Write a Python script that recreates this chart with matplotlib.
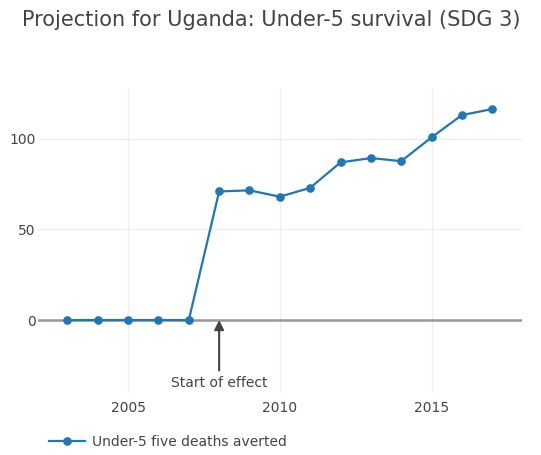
import numpy as np
import matplotlib
matplotlib.use('Agg')
import matplotlib.pyplot as plt

# Data
years = [2003, 2004, 2005, 2006, 2007, 2008, 2009, 2010,
         2011, 2012, 2013, 2014, 2015, 2016, 2017]
deaths_averted = [0, 0, 0, 0, 0, 70.9, 71.5, 68.0,
                  72.9, 86.9, 89.3, 87.6, 100.7, 113.0, 116.3]
x_ticks = [2005, 2010, 2015]
y_ticks = [0, 50, 100]
effect_year = 2008

title = 'Projection for Uganda: Under-5 survival (SDG 3)'
series_name = 'Under-5 five deaths averted'
grey = '#444444'
blue = '#1f77b4'

plt.rcParams['font.family'] = 'DejaVu Sans'

fig = plt.figure(figsize=(5.41, 4.55), dpi=100)
ax = fig.add_axes([0.0702, 0.1363, 0.8941, 0.6674])

line, = ax.plot(years, deaths_averted, color=blue, lw=1.6,
                marker='o', markersize=5.2, label=series_name, zorder=3)

ax.set_xlim(2002.03, 2017.97)
ax.set_ylim(-40.2, 127.2)
ax.set_xticks(x_ticks)
ax.set_yticks(y_ticks)
ax.grid(True, color='#eeeeee', lw=1)
ax.axhline(0, color='#999999', lw=1.8, zorder=2)

for s in ax.spines.values():
    s.set_visible(False)
ax.tick_params(length=0, labelsize=10, colors=grey)
ax.tick_params(axis='x', pad=6)
ax.tick_params(axis='y', pad=1.5)

# Annotation arrow for start of effect
ax.annotate('Start of effect', xy=(effect_year, 0), xytext=(effect_year, -34.7),
            ha='center', va='center', fontsize=10, color=grey,
            arrowprops=dict(arrowstyle='-|>', color=grey, lw=1.5,
                            mutation_scale=14, shrinkA=2, shrinkB=0))

fig.text(22 / 541, 1 - 20 / 455, title, fontsize=15, color=grey,
         ha='left', va='center')

fig.legend(handles=[line], loc='center left',
           bbox_to_anchor=(36 / 541, 1 - 442 / 455), frameon=False,
           fontsize=10, handlelength=2.6, handletextpad=0.5,
           labelcolor=grey)

fig.savefig('out.png', dpi=100)
